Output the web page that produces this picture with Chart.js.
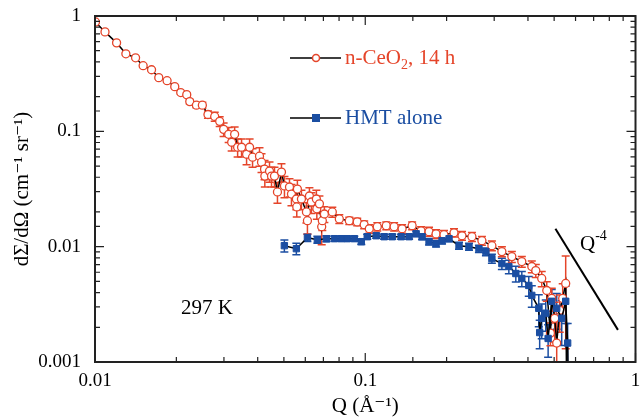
<!DOCTYPE html>
<html>
<head>
<meta charset="utf-8">
<script src="https://cdn.jsdelivr.net/npm/chart.js@4/dist/chart.umd.min.js"></script>
<style>
  body { margin: 0; background: #fff; }
  canvas { display: block; }
</style>
</head>
<body>
<canvas id="sansChart" width="641" height="419"></canvas>
<script>
// n-CeO2, 14 h (open red circles)
const ceQ = [0.01004, 0.01089, 0.01202, 0.01301, 0.01413, 0.01507, 0.01619, 0.01722, 0.01848, 0.01973,
  0.02076, 0.02185, 0.02242, 0.02373, 0.02496, 0.02618, 0.02773, 0.02893, 0.02992, 0.03123,
  0.03204, 0.03286, 0.03371, 0.03486, 0.03638, 0.03733, 0.03828, 0.04062, 0.04132, 0.04240,
  0.04250, 0.04423, 0.04499, 0.04615, 0.04733, 0.04898, 0.05024, 0.05244, 0.05333, 0.05561,
  0.05580, 0.05609, 0.05806, 0.06058, 0.06110, 0.06215, 0.06320, 0.06594, 0.06620, 0.06768,
  0.06900, 0.06937, 0.07060, 0.07553, 0.08018, 0.0873, 0.0934, 0.0991, 0.1035, 0.1108,
  0.1196, 0.1279, 0.1369, 0.1491, 0.1609, 0.1722, 0.1828, 0.1956, 0.2130, 0.2280,
  0.2482, 0.2702, 0.2942, 0.3203, 0.3487, 0.3796, 0.4133, 0.4276, 0.4498, 0.4695,
  0.4844, 0.4898, 0.5024, 0.5110, 0.5244, 0.5378, 0.5517, 0.5560];
const ceI = [0.888, 0.728, 0.585, 0.470, 0.434, 0.371, 0.342, 0.292, 0.275, 0.244,
  0.217, 0.208, 0.181, 0.1685, 0.1685, 0.140, 0.1346, 0.122, 0.104, 0.0942,
  0.0804, 0.0942, 0.0728, 0.0728, 0.0633, 0.0728, 0.0597, 0.0609, 0.0540, 0.0470,
  0.0409, 0.0452, 0.0409, 0.0409, 0.0298, 0.0443, 0.0336, 0.0329, 0.0286, 0.0259,
  0.0221, 0.0316, 0.0259, 0.0200, 0.0168, 0.0275, 0.0244, 0.0259, 0.0213, 0.0235,
  0.0149, 0.0168, 0.0192, 0.0200, 0.0174, 0.0168, 0.0164, 0.0155, 0.0143, 0.0149,
  0.0152, 0.0149, 0.0143, 0.0152, 0.0137, 0.0135, 0.0129, 0.0127, 0.0132, 0.01244,
  0.0122, 0.01127, 0.0102, 0.00906, 0.0082, 0.00743, 0.00673, 0.00621, 0.0053, 0.00417,
  0.00178, 0.00356, 0.00239, 0.00146, 0.00281, 0.00356, 0.0048, 0.0006];
const ceErr = [0.02, 0.015, 0.012, 0.010, 0.009, 0.008, 0.007, 0.006, 0.006, 0.005,
  0.006, 0.006, 0.008, 0.008, 0.010, 0.010, 0.012, 0.012, 0.014, 0.014,
  0.013, 0.015, 0.013, 0.013, 0.012, 0.013, 0.011, 0.011, 0.010, 0.009,
  0.008, 0.009, 0.008, 0.008, 0.006, 0.008, 0.007, 0.006, 0.006, 0.005,
  0.004, 0.006, 0.005, 0.004, 0.004, 0.005, 0.005, 0.005, 0.004, 0.004,
  0.0045, 0.003, 0.003, 0.002, 0.0015, 0.0012, 0.0012, 0.0012, 0.0012, 0.0012,
  0.0012, 0.0012, 0.0012, 0.0012, 0.0012, 0.0012, 0.0011, 0.0011, 0.0011, 0.0011,
  0.0011, 0.0010, 0.0010, 0.0009, 0.0009, 0.0008, 0.0008, 0.0008, 0.0008, 0.0008,
  0.0004, 0.0008, 0.0009, 0.0008, 0.0010, 0.0012, 0.0035, 0];

// HMT alone (filled blue squares)
const hmtQ = [0.0502, 0.0556, 0.0611, 0.0665, 0.0718, 0.0769, 0.0815, 0.0858, 0.0911, 0.0967,
  0.1017, 0.1098, 0.1175, 0.1258, 0.1358, 0.1453, 0.1543, 0.1623, 0.1722, 0.1828,
  0.1924, 0.2042, 0.2223, 0.2420, 0.2634, 0.2796, 0.2942, 0.3203, 0.3399, 0.3607,
  0.3796, 0.4028, 0.4133, 0.4386, 0.4420, 0.4498, 0.4655, 0.4750, 0.4898, 0.5110,
  0.5333, 0.5517, 0.5610, 0.5640];
const hmtI = [0.0102, 0.00961, 0.01197, 0.01149, 0.01173, 0.01173, 0.01173, 0.01173, 0.01173, 0.01105,
  0.0122, 0.01244, 0.0122, 0.0122, 0.0122, 0.0122, 0.01294, 0.0122, 0.01105, 0.01061,
  0.01127, 0.01173, 0.0102, 0.0100, 0.00961, 0.00906, 0.00788, 0.00713, 0.00673, 0.00585,
  0.0053, 0.00461, 0.00378, 0.00292, 0.0018, 0.00239, 0.00265, 0.0016, 0.00336, 0.00292,
  0.00239, 0.00336, 0.00146, 0.0006];
const hmtErr = [0.0012, 0.0011, 0.0009, 0.0008, 0.0007, 0.0006, 0.0006, 0.0006, 0.0006, 0.0006,
  0.0006, 0.0006, 0.0006, 0.0006, 0.0006, 0.0006, 0.0007, 0.0007, 0.0007, 0.0007,
  0.0007, 0.0007, 0.0007, 0.0007, 0.0007, 0.0007, 0.0007, 0.0008, 0.0009, 0.0009,
  0.0008, 0.0009, 0.0008, 0.0009, 0.0005, 0.0008, 0.0008, 0.0005, 0.0009, 0.0010,
  0.0010, 0.0012, 0.0007, 0];

// Q^-4 guide line
const slopeQ = [0.5055, 0.861];
const slopeI = [0.0143, 0.0019];

const xTickValues = [0.01, 0.1, 1];
const xTickLabels = ['0.01', '0.1', '1'];
const yTickValues = [0.001, 0.01, 0.1, 1];
const yTickLabels = ['0.001', '0.01', '0.1', '1'];

const RED = '#e5452a';
const BLUE = '#1b4ea2';
const SERIF = "'Liberation Serif', 'DejaVu Serif', serif";

function pts(qs, is) {
  return qs.map((q, i) => ({ x: q, y: is[i] }));
}

function decadeLabel(value, values, labels) {
  for (let i = 0; i < values.length; i++) {
    if (Math.abs(Math.log10(value) - Math.log10(values[i])) < 1e-6) return labels[i];
  }
  return '';
}

function isDecade(v) {
  const l = Math.log10(v);
  return Math.abs(l - Math.round(l)) < 1e-6;
}

// vertical error bars with caps, drawn under the markers
const errorBars = {
  id: 'errorBars',
  beforeDatasetsDraw(chart) {
    const { ctx, chartArea, scales: { x, y } } = chart;
    ctx.save();
    ctx.beginPath();
    ctx.rect(chartArea.left, chartArea.top, chartArea.right - chartArea.left, chartArea.bottom - chartArea.top);
    ctx.clip();
    chart.data.datasets.forEach(ds => {
      if (!ds.errors) return;
      ctx.strokeStyle = ds.errorColor;
      ctx.lineWidth = 1.5;
      ds.data.forEach((p, j) => {
        const e = ds.errors[j];
        if (!e) return;
        const px = x.getPixelForValue(p.x);
        const top = y.getPixelForValue(p.y + e);
        const bot = y.getPixelForValue(Math.max(p.y - e, 1e-6));
        ctx.beginPath();
        ctx.moveTo(px, top); ctx.lineTo(px, bot);
        ctx.moveTo(px - 4, top); ctx.lineTo(px + 4, top);
        ctx.moveTo(px - 4, bot); ctx.lineTo(px + 4, bot);
        ctx.stroke();
      });
    });
    ctx.restore();
  }
};

// box frame, inward ticks, legend and labels
const frame = {
  id: 'frame',
  afterDraw(chart) {
    const { ctx, chartArea: a, scales: { x, y } } = chart;
    ctx.save();
    ctx.strokeStyle = '#222';
    ctx.lineWidth = 1.2;
    x.ticks.forEach(t => {
      const px = x.getPixelForValue(t.value);
      const len = isDecade(t.value) ? 9 : 5;
      ctx.beginPath();
      ctx.moveTo(px, a.bottom); ctx.lineTo(px, a.bottom - len);
      ctx.moveTo(px, a.top); ctx.lineTo(px, a.top + len);
      ctx.stroke();
    });
    y.ticks.forEach(t => {
      const py = y.getPixelForValue(t.value);
      const len = isDecade(t.value) ? 9 : 5;
      ctx.beginPath();
      ctx.moveTo(a.left, py); ctx.lineTo(a.left + len, py);
      ctx.moveTo(a.right, py); ctx.lineTo(a.right - len, py);
      ctx.stroke();
    });
    ctx.lineWidth = 2;
    ctx.strokeRect(a.left, a.top, a.right - a.left, a.bottom - a.top);

    // legend
    ctx.lineWidth = 1.5;
    ctx.strokeStyle = '#000';
    ctx.beginPath();
    ctx.moveTo(290, 58); ctx.lineTo(341, 58);
    ctx.moveTo(290, 118); ctx.lineTo(341, 118);
    ctx.stroke();
    ctx.beginPath();
    ctx.arc(316, 58, 3.5, 0, Math.PI * 2);
    ctx.fillStyle = '#fff';
    ctx.fill();
    ctx.strokeStyle = RED;
    ctx.stroke();
    ctx.fillStyle = BLUE;
    ctx.fillRect(312, 114, 8, 8);

    ctx.font = '21px ' + SERIF;
    ctx.textBaseline = 'middle';
    ctx.textAlign = 'left';
    ctx.fillStyle = RED;
    ctx.fillText('n-CeO', 345, 58);
    let w = ctx.measureText('n-CeO').width;
    ctx.font = '14px ' + SERIF;
    ctx.fillText('2', 345 + w, 65);
    w += ctx.measureText('2').width;
    ctx.font = '21px ' + SERIF;
    ctx.fillText(', 14 h', 345 + w, 58);
    ctx.fillStyle = BLUE;
    ctx.fillText('HMT alone', 345, 118);

    ctx.fillStyle = '#000';
    ctx.fillText('297 K', 181, 308);
    ctx.fillText('Q', 580, 244);
    const qw = ctx.measureText('Q').width;
    ctx.font = '14px ' + SERIF;
    ctx.fillText('-4', 580 + qw, 236);
    ctx.restore();
  }
};

new Chart(document.getElementById('sansChart'), {
  type: 'scatter',
  data: {
    datasets: [{
      label: 'HMT alone',
      data: pts(hmtQ, hmtI),
      errors: hmtErr,
      errorColor: BLUE,
      showLine: true,
      borderColor: '#000',
      borderWidth: 1.5,
      pointStyle: 'rect',
      pointRadius: 4.5,
      pointBackgroundColor: BLUE,
      pointBorderColor: BLUE,
      pointBorderWidth: 1
    }, {
      label: 'n-CeO2, 14 h',
      data: pts(ceQ, ceI),
      errors: ceErr,
      errorColor: RED,
      showLine: true,
      borderColor: '#000',
      borderWidth: 1.5,
      pointStyle: 'circle',
      pointRadius: 4,
      pointBackgroundColor: '#fff',
      pointBorderColor: RED,
      pointBorderWidth: 1.3
    }, {
      label: 'Q-4',
      data: pts(slopeQ, slopeI),
      showLine: true,
      borderColor: '#000',
      borderWidth: 2,
      pointRadius: 0
    }]
  },
  options: {
    responsive: false,
    animation: false,
    devicePixelRatio: 1,
    layout: { padding: { left: 0, top: 16, right: 2, bottom: 0 } },
    plugins: {
      legend: { display: false },
      tooltip: { enabled: false }
    },
    scales: {
      x: {
        type: 'logarithmic',
        min: 0.01,
        max: 1,
        grid: { display: false, drawTicks: false },
        border: { display: false },
        afterFit: s => { s.height = 57; s.paddingLeft = 0; s.paddingRight = 0; },
        ticks: {
          autoSkip: false,
          maxRotation: 0,
          padding: 8,
          color: '#000',
          font: { family: SERIF, size: 19 },
          callback: v => decadeLabel(v, xTickValues, xTickLabels)
        },
        title: {
          display: true,
          text: 'Q (Å⁻¹)',
          color: '#000',
          font: { family: SERIF, size: 21 },
          padding: { top: 0, bottom: 0 }
        }
      },
      y: {
        type: 'logarithmic',
        min: 0.001,
        max: 1,
        grid: { display: false, drawTicks: false },
        border: { display: false },
        afterFit: s => { s.width = 95; s.paddingTop = 0; s.paddingBottom = 0; },
        ticks: {
          autoSkip: false,
          padding: 14,
          color: '#000',
          font: { family: SERIF, size: 19 },
          callback: v => decadeLabel(v, yTickValues, yTickLabels)
        },
        title: {
          display: true,
          text: 'dΣ/dΩ (cm⁻¹ sr⁻¹)',
          color: '#000',
          font: { family: SERIF, size: 21 },
          padding: { top: 10, bottom: 0 }
        }
      }
    }
  },
  plugins: [errorBars, frame]
});
</script>
</body>
</html>
